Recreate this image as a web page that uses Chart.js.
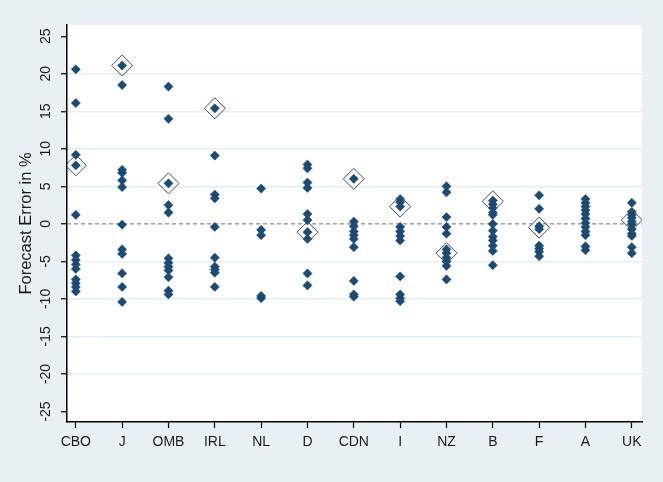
<!DOCTYPE html>
<html lang="en">
<head>
    <meta charset="UTF-8">
    <title>Forecast Error in %</title>
    <script src="https://cdn.jsdelivr.net/npm/chart.js"></script>
    <style>
        body {
            margin: 0;
            background-color: #e9f0f3;
        }
        .chart-container {
            width: 663px;
            height: 482px;
        }
    </style>
</head>
<body>

    <div class="chart-container">
        <canvas id="errorChart" width="663" height="482"></canvas>
    </div>

    <script>
        // Forecasters / countries along the x axis
        const categories = ['CBO', 'J', 'OMB', 'IRL', 'NL', 'D', 'CDN', 'I', 'NZ', 'B', 'F', 'A', 'UK'];

        // Individual forecast errors (%) per category
        const forecastErrors = [
            [20.6, 16.1, 9.2, 7.8, 1.2, -4.2, -4.8, -5.4, -6.0, -7.4, -7.9, -8.4, -9.0],
            [21.1, 18.5, 7.2, 6.8, 5.8, 4.9, -0.1, -3.4, -4.0, -6.6, -8.4, -10.4],
            [18.3, 14.0, 5.4, 2.5, 1.5, -4.6, -5.2, -5.7, -6.2, -7.1, -8.9, -9.4],
            [15.4, 9.1, 3.9, 3.4, -0.4, -4.5, -5.7, -6.1, -6.5, -8.4],
            [4.7, -0.8, -1.5, -9.6, -9.9],
            [7.9, 7.4, 5.5, 4.8, 1.3, 0.5, -1.1, -2.0, -6.6, -8.2],
            [6.0, 0.3, -0.3, -1.0, -1.5, -2.0, -3.1, -7.6, -9.4, -9.7],
            [3.3, 2.9, 2.3, -0.4, -1.0, -1.6, -2.2, -7.0, -9.4, -9.9, -10.3],
            [5.0, 4.2, 0.9, -0.4, -1.3, -3.4, -3.9, -4.5, -5.0, -5.6, -7.4],
            [3.1, 2.6, 2.1, 1.5, 1.2, 0.0, -0.9, -1.7, -2.2, -2.9, -3.6, -5.5],
            [3.8, 2.0, -0.3, -0.7, -2.9, -3.3, -3.7, -4.3],
            [3.3, 2.8, 2.3, 1.8, 1.3, 0.7, 0.1, -0.4, -1.0, -1.5, -3.0, -3.5],
            [2.8, 1.6, 1.2, 0.8, 0.3, -0.1, -0.7, -1.3, -1.6, -3.1, -3.9]
        ];

        // Highlighted (hollow diamond) value per category
        const highlighted = [7.8, 21.1, 5.4, 15.4, null, -1.1, 6.0, 2.3, -3.9, 3.0, -0.5, null, 0.5];

        const yTicks = [-25, -20, -15, -10, -5, 0, 5, 10, 15, 20, 25];

        const points = [];
        forecastErrors.forEach((vals, i) => {
            vals.forEach(v => points.push({ x: i, y: v }));
        });
        const hollowPoints = [];
        highlighted.forEach((v, i) => {
            if (v !== null) hollowPoints.push({ x: i, y: v });
        });

        const xMin = -0.19, xMax = 12.22;

        // white plot region + rotated y tick labels
        const plotArea = {
            id: 'plotArea',
            beforeDraw(chart) {
                const { ctx, chartArea: a } = chart;
                ctx.save();
                ctx.fillStyle = '#ffffff';
                ctx.fillRect(a.left, a.top, a.right - a.left, a.bottom - a.top);
                ctx.restore();
            },
            afterDraw(chart) {
                const { ctx } = chart;
                const y = chart.scales.y;
                ctx.save();
                ctx.fillStyle = '#1a1a1a';
                ctx.font = '14px "Liberation Sans", Arial, sans-serif';
                ctx.textAlign = 'center';
                ctx.textBaseline = 'middle';
                yTicks.forEach(t => {
                    const py = y.getPixelForValue(t);
                    ctx.save();
                    ctx.translate(46, py);
                    ctx.rotate(-Math.PI / 2);
                    ctx.fillText(String(t), 0, 0);
                    ctx.restore();
                });
                ctx.restore();
            }
        };

        new Chart(document.getElementById('errorChart'), {
            type: 'scatter',
            data: {
                datasets: [
                    {
                        label: 'highlight',
                        data: hollowPoints,
                        pointStyle: 'rectRot',
                        pointRadius: 10.5,
                        backgroundColor: 'rgba(0,0,0,0)',
                        borderColor: '#3e5064',
                        borderWidth: 1
                    },
                    {
                        label: 'errors',
                        data: points,
                        pointStyle: 'rectRot',
                        pointRadius: 4.6,
                        backgroundColor: '#1b4a74',
                        borderColor: '#1b4a74',
                        borderWidth: 0.5
                    },
                    {
                        label: 'zero',
                        type: 'line',
                        data: [{ x: xMin, y: 0 }, { x: xMax, y: 0 }],
                        borderColor: '#6f6f6f',
                        borderWidth: 1,
                        borderDash: [4, 3],
                        pointRadius: 0
                    }
                ]
            },
            options: {
                responsive: false,
                animation: false,
                layout: { padding: { top: 25, right: 21, left: 0, bottom: 0 } },
                plugins: {
                    legend: { display: false },
                    tooltip: { enabled: false }
                },
                scales: {
                    x: {
                        type: 'linear',
                        min: xMin,
                        max: xMax,
                        afterBuildTicks: s => { s.ticks = categories.map((c, i) => ({ value: i })); },
                        afterFit: s => { s.height = 60; },
                        grid: {
                            drawOnChartArea: false,
                            drawTicks: true,
                            tickLength: 6,
                            tickColor: '#000',
                            tickWidth: 1.2
                        },
                        border: { display: true, color: '#000', width: 1.5 },
                        ticks: {
                            autoSkip: false,
                            maxRotation: 0,
                            padding: 6,
                            color: '#1a1a1a',
                            font: { family: '"Liberation Sans", Arial, sans-serif', size: 14 },
                            callback: v => categories[v] ?? ''
                        }
                    },
                    y: {
                        min: -26.4,
                        max: 26.5,
                        afterBuildTicks: s => { s.ticks = yTicks.map(v => ({ value: v })); },
                        afterFit: s => { s.width = 67; },
                        grid: {
                            color: ctx => (Math.abs(ctx.tick.value) === 25 || ctx.tick.value === 0) ? 'rgba(0,0,0,0)' : '#e7eef1',
                            lineWidth: 1.5,
                            drawTicks: true,
                            tickLength: 6,
                            tickColor: '#000',
                            tickWidth: 1.2
                        },
                        border: { display: true, color: '#000', width: 1.5 },
                        ticks: { display: false },
                        title: {
                            display: true,
                            text: 'Forecast Error in %',
                            color: '#1a1a1a',
                            font: { family: '"Liberation Sans", Arial, sans-serif', size: 16.5 },
                            padding: { top: 17, bottom: 0 }
                        }
                    }
                }
            },
            plugins: [plotArea]
        });
    </script>

</body>
</html>
